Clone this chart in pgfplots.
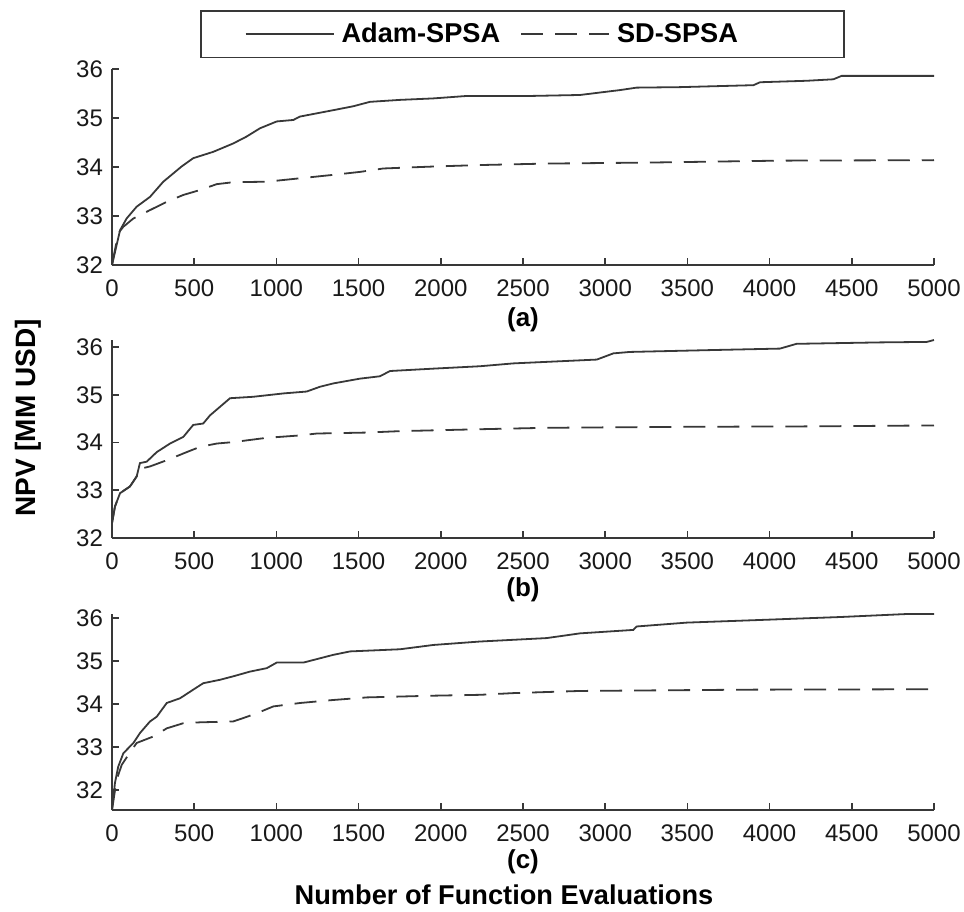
\documentclass[border=0pt]{standalone}
\usepackage{fontspec}
\setmainfont{Liberation Sans}
\usepackage{pgfplots}
\pgfplotsset{compat=1.18}
\definecolor{ln}{gray}{0.22}
\pgfplotsset{
 panel/.style={
  scale only axis, width=411pt, anchor=south west,
  xmin=0, xmax=5000,
  axis x line*=bottom, axis y line*=left,
  tick align=inside, major tick length=3.5pt,
  xtick={0,500,...,5000}, ytick={32,33,34,35,36},
  /pgf/number format/assume math mode=true,
  /pgf/number format/set thousands separator={},
  tick label style={font=\fontsize{12}{14}\selectfont, text=black!90},
  xticklabel style={yshift=-4pt},
  yticklabel style={xshift=-1pt},
  axis line style={ln, line width=0.8pt},
  tick style={ln, line width=0.8pt},
  clip=false,
  every axis x label/.style={at={(axis description cs:0.5,0)}, anchor=center, font=\fontsize{13}{15}\selectfont\bfseries},
 },
}
\begin{document}
\begin{tikzpicture}
\useasboundingbox (0pt,0pt) rectangle (482pt,-455.5pt);
% panel (a)
\begin{axis}[panel, at={(56pt,-132.5pt)}, height=98pt, ymin=32, ymax=36,
  xlabel={(a)}, xlabel style={yshift=-27.5pt},
  legend style={at={(axis description cs:0.107,1.301)}, anchor=north west, draw=ln, line width=0.8pt,
    font=\fontsize{13.6}{16}\selectfont\bfseries, legend columns=2, inner xsep=22pt, inner ysep=6pt,
    nodes={inner sep=0pt},
    /tikz/every odd column/.append style={column sep=3.5pt},
    /tikz/every even column/.append style={column sep=10pt}},
  legend image code/.code={\draw[#1] (0pt,0pt) -- (44pt,0pt);}]
\addplot[ln, line width=0.9pt] coordinates {(0,32.0) (49,32.71) (89,32.95) (150,33.19) (231,33.39) (312,33.70) (373,33.87) (423,34.01) (494,34.18) (616,34.31) (737,34.48) (818,34.62) (900,34.79) (1002,34.93) (1103,34.96) (1144,35.03) (1346,35.16) (1468,35.24) (1569,35.33) (1752,35.37) (1955,35.40) (2158,35.45) (2543,35.45) (2847,35.47) (2968,35.52) (3090,35.57) (3191,35.62) (3455,35.63) (3902,35.67) (3942,35.73) (4226,35.76) (4388,35.79) (4438,35.86) (4672,35.86) (5000,35.86)};
\addlegendentry{Adam-SPSA}
\addplot[ln, line width=0.9pt, dash pattern=on 11pt off 6pt] coordinates {(0,32.0) (38,32.65) (69,32.78) (130,32.95) (231,33.12) (333,33.29) (434,33.43) (535,33.53) (637,33.65) (737,33.69) (941,33.70) (1144,33.77) (1346,33.84) (1508,33.90) (1650,33.97) (1955,34.01) (2238,34.04) (2644,34.07) (3252,34.09) (4063,34.13) (5000,34.14)};
\addlegendentry{SD-SPSA\hspace*{31pt}}
\end{axis}
% panel (b)
\begin{axis}[panel, at={(56pt,-269pt)}, height=99pt, ymin=32, ymax=36.15,
  xlabel={(b)}, xlabel style={yshift=-26pt}]
\addplot[ln, line width=0.9pt] coordinates {(0,32.31) (18,32.66) (49,32.94) (109,33.08) (150,33.29) (170,33.57) (211,33.60) (272,33.80) (353,33.98) (434,34.12) (494,34.37) (555,34.40) (596,34.57) (657,34.75) (718,34.93) (859,34.96) (1041,35.03) (1184,35.07) (1265,35.17) (1346,35.24) (1508,35.34) (1630,35.39) (1691,35.50) (1955,35.55) (2238,35.60) (2442,35.66) (2949,35.74) (3050,35.87) (3151,35.90) (3658,35.94) (4063,35.97) (4164,36.07) (4672,36.10) (4956,36.11) (5000,36.15)};
\addplot[ln, line width=0.9pt, dash pattern=on 11pt off 6pt] coordinates {(0,32.31) (18,32.66) (49,32.94) (109,33.08) (150,33.29) (170,33.45) (231,33.50) (333,33.63) (454,33.80) (535,33.91) (637,33.98) (737,34.01) (941,34.10) (1144,34.15) (1245,34.19) (1548,34.21) (1752,34.24) (2238,34.28) (2644,34.31) (3455,34.33) (4266,34.34) (5000,34.36)};
\end{axis}
% panel (c)
\begin{axis}[panel, at={(56pt,-405pt)}, height=98pt, ymin=31.53, ymax=36.09,
  xlabel={(c)}, xlabel style={yshift=-26pt}]
\addplot[ln, line width=0.9pt] coordinates {(0,31.53) (18,32.16) (38,32.54) (69,32.85) (130,33.09) (170,33.32) (231,33.59) (272,33.70) (333,34.02) (414,34.13) (494,34.33) (555,34.48) (657,34.56) (737,34.64) (839,34.75) (941,34.83) (1002,34.96) (1164,34.96) (1346,35.14) (1448,35.22) (1752,35.27) (1955,35.37) (2238,35.45) (2644,35.53) (2847,35.64) (3171,35.72) (3191,35.80) (3496,35.89) (3861,35.94) (4429,36.02) (4834,36.09) (5000,36.09)};
\addplot[ln, line width=0.9pt, dash pattern=on 11pt off 6pt] coordinates {(0,31.53) (28,32.23) (59,32.58) (99,32.81) (150,33.09) (251,33.24) (333,33.43) (434,33.55) (535,33.57) (737,33.59) (799,33.67) (880,33.78) (981,33.94) (1144,34.02) (1346,34.09) (1550,34.15) (1955,34.19) (2238,34.21) (2442,34.25) (2847,34.30) (3861,34.33) (5000,34.34)};
\end{axis}
\node[rotate=90, font=\fontsize{14}{16}\selectfont\bfseries] at (14pt,-209pt) {NPV [MM USD]};
\node[font=\fontsize{13.6}{16}\selectfont\bfseries] at (252pt,-447.5pt) {Number of Function Evaluations};
\end{tikzpicture}
\end{document}
